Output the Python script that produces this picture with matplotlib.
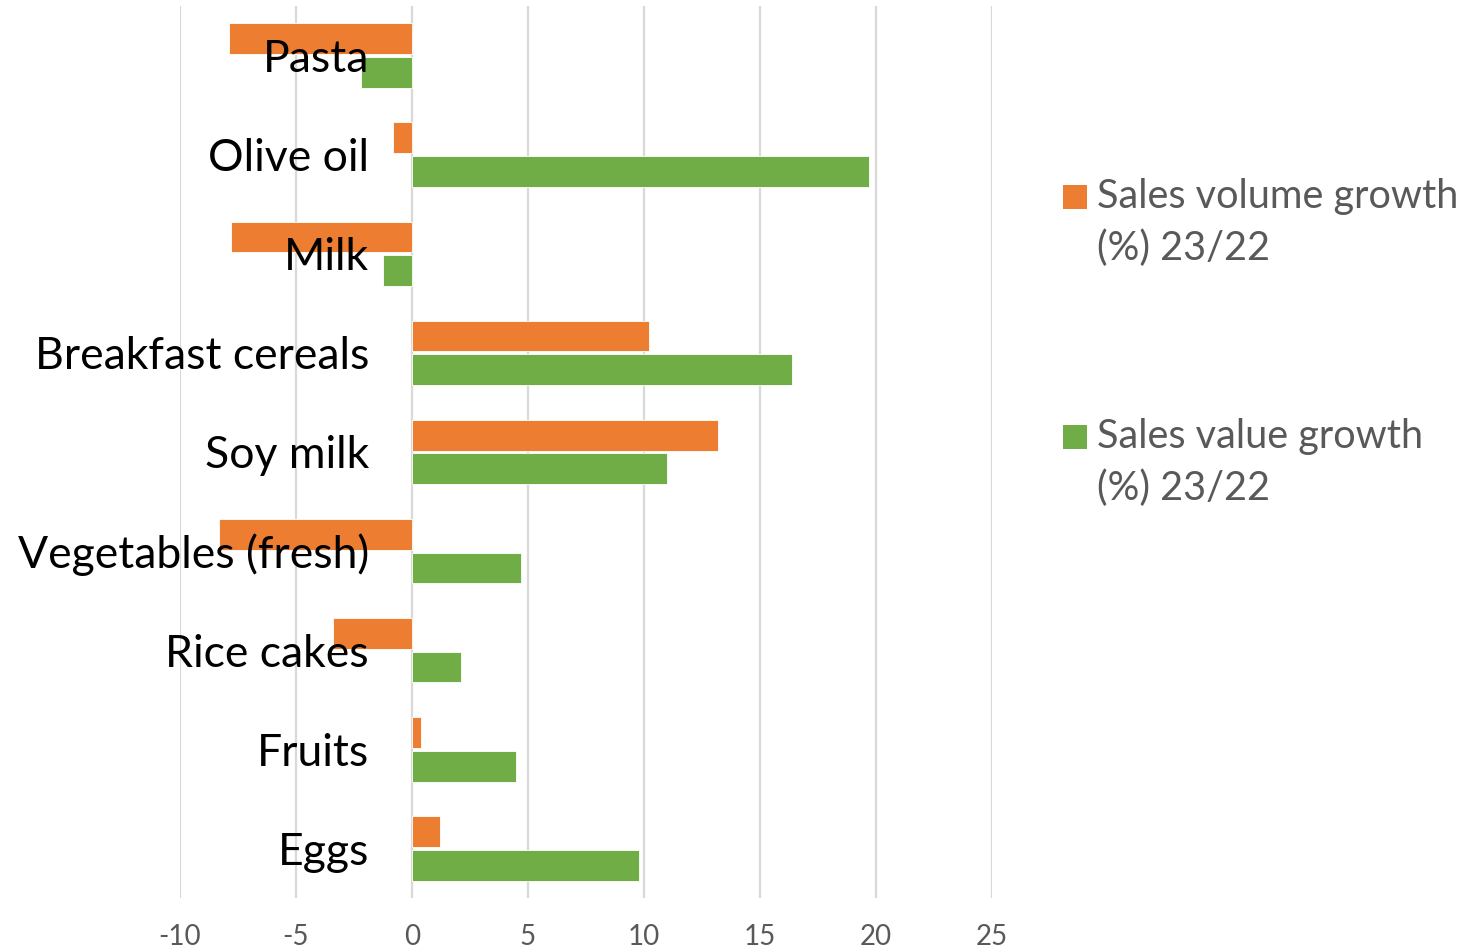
import matplotlib
matplotlib.use("Agg")
import matplotlib.pyplot as plt
import numpy as np
from matplotlib.patches import Rectangle

categories = ["Pasta", "Olive oil", "Milk", "Breakfast cereals", "Soy milk",
              "Vegetables (fresh)", "Rice cakes", "Fruits", "Eggs"]
volume_growth = [-7.9, -0.8, -7.8, 10.2, 13.2, -8.3, -3.4, 0.4, 1.2]
value_growth = [-2.2, 19.7, -1.25, 16.4, 11.0, 4.7, 2.1, 4.5, 9.8]
series_labels = [["Sales volume growth", "(%) 23/22"], ["Sales value growth", "(%) 23/22"]]
x_ticks = [-10, -5, 0, 5, 10, 15, 20, 25]

ORANGE = "#ED7D31"
GREEN = "#70AD47"
GRID = "#D9D9D9"
TEXT_GREY = "#595959"

plt.rcParams["font.family"] = ["Lato", "DejaVu Sans"]

W, H = 1468, 952
fig = plt.figure(figsize=(W / 100, H / 100), dpi=100)
ax = fig.add_axes([180 / W, 1 - 898 / H, 812 / W, 892 / H])

# vertical gridlines behind the bars
for t in x_ticks:
    ax.axvline(t, color=GRID, linewidth=1.6, zorder=0)

y = np.arange(len(categories))
h = 0.31
off = 0.17
ax.barh(y - off, volume_growth, height=h, color=ORANGE, edgecolor="white", linewidth=0.6, zorder=1)
ax.barh(y + off, value_growth, height=h, color=GREEN, edgecolor="white", linewidth=0.6, zorder=1)

ax.set_xlim(-10, 25)
ax.set_ylim(len(categories) - 0.5, -0.5)
ax.set_xticks(x_ticks)
ax.set_xticklabels([str(t) for t in x_ticks])
ax.set_yticks(y)
ax.set_yticklabels(categories)

for side in ["top", "right", "bottom"]:
    ax.spines[side].set_visible(False)
# category labels sit next to the zero line
ax.spines["left"].set_position(("data", 0))
ax.spines["left"].set_visible(False)

ax.tick_params(axis="y", length=0, pad=31, labelsize=32, labelcolor="black")
ax.tick_params(axis="x", length=0, pad=19, labelsize=20, labelcolor=TEXT_GREY)

# legend: square swatch aligned with the first line of each two-line label
entry_tops = [197, 437]
for color, lines, yc in zip([ORANGE, GREEN], series_labels, entry_tops):
    fig.patches.append(Rectangle((1063 / W, 1 - (yc + 12) / H), 24 / W, 24 / H,
                                 transform=fig.transFigure, facecolor=color,
                                 edgecolor="none"))
    for i, line in enumerate(lines):
        fig.text(1097 / W, 1 - (yc + 51 * i) / H, line, fontsize=28.5,
                 color=TEXT_GREY, ha="left", va="center")

fig.savefig("out.png", dpi=100)
